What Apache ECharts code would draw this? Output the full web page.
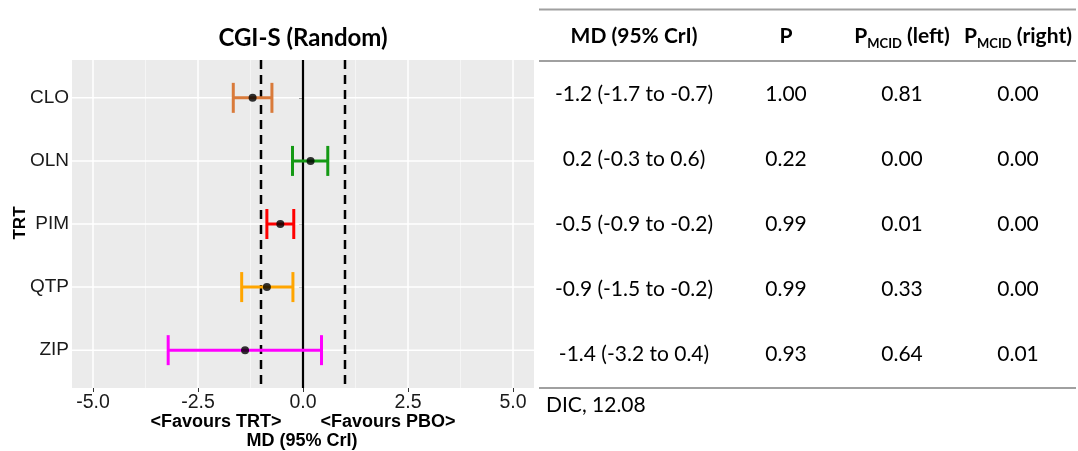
<!DOCTYPE html>
<html>
<head>
<meta charset="utf-8">
<title>CGI-S (Random)</title>
<script src="https://cdn.jsdelivr.net/npm/echarts@6/dist/echarts.min.js"></script>
<style>
  html, body { margin: 0; padding: 0; background: #ffffff; }
  #chart { width: 1078px; height: 451px; }
</style>
</head>
<body>
<div id="chart"></div>
<script>
// Treatments and their mean differences vs placebo with 95% credible intervals
const trt = ['CLO', 'OLN', 'PIM', 'QTP', 'ZIP'];
const md = [-1.2, 0.18, -0.54, -0.86, -1.38];
const lower = [-1.66, -0.25, -0.86, -1.46, -3.21];
const upper = [-0.74, 0.59, -0.22, -0.24, 0.44];

// Probabilities shown in the table
const probP = ['1.00', '0.22', '0.99', '0.99', '0.93'];
const pMcidLeft = ['0.81', '0.00', '0.01', '0.33', '0.64'];
const pMcidRight = ['0.00', '0.00', '0.00', '0.00', '0.01'];
const dic = '12.08';

// Axis ticks and reference lines
const xTicks = [-5, -2.5, 0, 2.5, 5];
const xMinorTicks = [-3.75, -1.25, 1.25, 3.75];
const nullLine = [0];
const mcidLines = [-1, 1];

// Styling
const barColors = ['#d97a3a', '#149914', '#ff0000', '#ffa500', '#ff00ff'];
const plotFont = 'Liberation Sans, Arial, sans-serif';
const tableFont = 'Lato, Carlito, sans-serif';

const chart = echarts.init(document.getElementById('chart'), null, { renderer: 'canvas' });

const yIdx = trt.map((_, i) => i + 1);

function vLineSeries(values, style, z) {
  return {
    type: 'custom',
    coordinateSystem: 'cartesian2d',
    silent: true,
    z: z,
    data: values.map(v => [v, 1]),
    encode: { x: 0, y: 1 },
    renderItem: (params, api) => {
      const x = api.coord([api.value(0), 1])[0];
      const cs = params.coordSys;
      return {
        type: 'line',
        shape: { x1: x, y1: cs.y, x2: x, y2: cs.y + cs.height },
        style: Object.assign({ fill: null }, style)
      };
    }
  };
}

function hLineSeries(values, style, z) {
  return {
    type: 'custom',
    coordinateSystem: 'cartesian2d',
    silent: true,
    z: z,
    data: values.map(v => [0, v]),
    encode: { x: 0, y: 1 },
    renderItem: (params, api) => {
      const y = api.coord([0, api.value(1)])[1];
      const cs = params.coordSys;
      return {
        type: 'line',
        shape: { x1: cs.x, y1: y, x2: cs.x + cs.width, y2: y },
        style: Object.assign({ fill: null }, style)
      };
    }
  };
}

// Table layout
const colX = [634, 786, 902, 1018];
const rowY = [94, 159, 224, 289, 354];
const headerY = 36;
const tableLeft = 539, tableRight = 1076;

const fmt = v => v.toFixed(1);
const mdText = md.map((m, i) => `${fmt(m)} (${fmt(lower[i])} to ${fmt(upper[i])})`);

const graphics = [];

// Plot title
graphics.push({
  type: 'text', x: 303, y: 38,
  style: { text: 'CGI-S (Random)', font: 'bold 24px ' + tableFont, fill: '#000', align: 'center', verticalAlign: 'middle' }
});
// Y axis title
graphics.push({
  type: 'text', x: 20, y: 223, rotation: Math.PI / 2,
  style: { text: 'TRT', font: 'bold 17px ' + plotFont, fill: '#000', align: 'center', verticalAlign: 'middle' }
});
// X axis titles
graphics.push({
  type: 'text', x: 216, y: 422,
  style: { text: '<Favours TRT>', font: 'bold 18px ' + plotFont, fill: '#000', align: 'center', verticalAlign: 'middle' }
});
graphics.push({
  type: 'text', x: 388, y: 422,
  style: { text: '<Favours PBO>', font: 'bold 18px ' + plotFont, fill: '#000', align: 'center', verticalAlign: 'middle' }
});
graphics.push({
  type: 'text', x: 302, y: 441,
  style: { text: 'MD (95% CrI)', font: 'bold 18px ' + plotFont, fill: '#000', align: 'center', verticalAlign: 'middle' }
});

// Table rules
[9.5, 61, 388].forEach(y => {
  graphics.push({
    type: 'line',
    shape: { x1: tableLeft, y1: y, x2: tableRight, y2: y },
    style: { stroke: '#a0a0a0', lineWidth: 2 }
  });
});

// Table header
const headRich = {
  p: { fontFamily: tableFont, fontWeight: 'bold', fontSize: 21, lineHeight: 28, verticalAlign: 'middle', fill: '#000' },
  s: { fontFamily: tableFont, fontWeight: 'bold', fontSize: 13, lineHeight: 14, verticalAlign: 'bottom', fill: '#000' }
};
const headers = [
  '{p|MD (95% CrI)}',
  '{p|P}',
  '{p|P}{s|MCID}{p| (left)}',
  '{p|P}{s|MCID}{p| (right)}'
];
headers.forEach((h, c) => {
  graphics.push({
    type: 'text', x: colX[c], y: headerY,
    style: { text: h, rich: headRich, align: 'center', verticalAlign: 'middle' }
  });
});

// Table body
const cellFont = '21px ' + tableFont;
trt.forEach((_, r) => {
  [mdText[r], probP[r], pMcidLeft[r], pMcidRight[r]].forEach((t, c) => {
    graphics.push({
      type: 'text', x: colX[c], y: rowY[r],
      style: { text: t, font: cellFont, fill: '#000', align: 'center', verticalAlign: 'middle' }
    });
  });
});
graphics.push({
  type: 'text', x: 546, y: 405,
  style: { text: 'DIC, ' + dic, font: cellFont, fill: '#000', align: 'left', verticalAlign: 'middle' }
});

const option = {
  animation: false,
  backgroundColor: '#ffffff',
  grid: {
    show: true, left: 72, right: 544, top: 60, bottom: 63,
    backgroundColor: '#ebebeb', borderWidth: 0
  },
  xAxis: {
    type: 'value', min: -5.5, max: 5.5,
    axisLine: { show: false },
    splitLine: { show: false },
    axisTick: { show: true, length: 4, customValues: xTicks, lineStyle: { color: '#333', width: 1 } },
    axisLabel: {
      customValues: xTicks, margin: 5,
      formatter: v => v.toFixed(1),
      fontFamily: plotFont, fontSize: 19.5, color: '#1a1a1a'
    }
  },
  yAxis: {
    type: 'value', min: 0.4, max: 5.6, inverse: true,
    axisLine: { show: false },
    splitLine: { show: false },
    axisTick: { show: true, length: 4, customValues: yIdx, lineStyle: { color: '#333', width: 1 } },
    axisLabel: {
      customValues: yIdx, margin: 3,
      formatter: v => trt[Math.round(v) - 1] || '',
      fontFamily: plotFont, fontSize: 19, color: '#1a1a1a'
    }
  },
  series: [
    vLineSeries(xMinorTicks, { stroke: '#f7f7f7', lineWidth: 0.8 }, 1),
    vLineSeries(xTicks, { stroke: '#ffffff', lineWidth: 1.5 }, 2),
    hLineSeries(yIdx, { stroke: '#ffffff', lineWidth: 1.5 }, 2),
    vLineSeries(nullLine, { stroke: '#000000', lineWidth: 2.2 }, 3),
    vLineSeries(mcidLines, { stroke: '#000000', lineWidth: 2.5, lineDash: [9, 6] }, 3),
    {
      type: 'custom',
      coordinateSystem: 'cartesian2d',
      silent: true,
      z: 4,
      data: trt.map((_, i) => [lower[i], upper[i], i + 1]),
      encode: { x: [0, 1], y: 2 },
      renderItem: (params, api) => {
        const i = params.dataIndex;
        const p1 = api.coord([api.value(0), api.value(2)]);
        const p2 = api.coord([api.value(1), api.value(2)]);
        const cap = 15;
        const style = { stroke: barColors[i], lineWidth: 3, fill: null };
        return {
          type: 'group',
          children: [
            { type: 'line', shape: { x1: p1[0], y1: p1[1], x2: p2[0], y2: p2[1] }, style },
            { type: 'line', shape: { x1: p1[0], y1: p1[1] - cap, x2: p1[0], y2: p1[1] + cap }, style },
            { type: 'line', shape: { x1: p2[0], y1: p2[1] - cap, x2: p2[0], y2: p2[1] + cap }, style }
          ]
        };
      }
    },
    {
      type: 'scatter',
      z: 5,
      silent: true,
      symbol: 'circle',
      symbolSize: 8,
      itemStyle: { color: '#000000' },
      data: md.map((m, i) => [m, i + 1])
    }
  ],
  graphic: graphics
};

chart.setOption(option);
</script>
</body>
</html>
